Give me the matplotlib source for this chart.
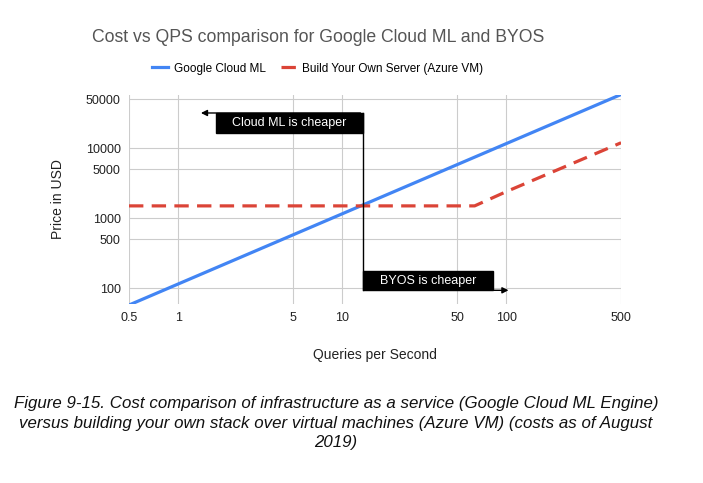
import matplotlib.pyplot as plt
from matplotlib.patches import Rectangle

plt.rcParams['font.family'] = ['Liberation Sans', 'DejaVu Sans']

# data
qps_cloud = [0.5, 1, 5, 10, 50, 100, 500]
price_cloud = [58, 116, 580, 1160, 5800, 11600, 58000]
qps_byos = [0.5, 1, 5, 10, 50, 64, 100, 500]
price_byos = [1500, 1500, 1500, 1500, 1500, 1500, 2400, 11900]

x_ticks = [0.5, 1, 5, 10, 50, 100, 500]
x_labels = ['0.5', '1', '5', '10', '50', '100', '500']
y_ticks = [100, 500, 1000, 5000, 10000, 50000]
y_labels = ['100', '500', '1000', '5000', '10000', '50000']

blue = '#4285F4'
red = '#DB4437'

fig = plt.figure(figsize=(7.03, 4.83), dpi=100)
ax = fig.add_axes([0.1835, 0.3706, 0.700, 0.4327])

ax.plot(qps_cloud, price_cloud, color=blue, lw=2.3, label='Google Cloud ML', zorder=3)
ax.plot(qps_byos, price_byos, color=red, lw=2.3, dashes=(4.5, 2.6),
        label='Build Your Own Server (Azure VM)', zorder=3)

ax.set_xscale('log')
ax.set_yscale('log')
ax.set_xlim(0.5, 500)
ax.set_ylim(60, 57000)
ax.set_xticks(x_ticks)
ax.set_xticklabels(x_labels)
ax.set_yticks(y_ticks)
ax.set_yticklabels(y_labels)
ax.minorticks_off()
ax.tick_params(length=0, labelsize=9, colors='#222222', pad=6)
ax.grid(True, color='#cccccc', lw=0.8)
for s in ax.spines.values():
    s.set_visible(False)

ax.set_xlabel('Queries per Second', fontsize=10, color='#222222', va='center')
ax.set_ylabel('Price in USD', fontsize=10, color='#222222', va='center')
ax.xaxis.set_label_coords(0.5, -0.244)
ax.yaxis.set_label_coords(-0.144, 0.5)

# annotations
xc = 13.4
ax.add_patch(Rectangle((1.69, 16400), xc - 1.69, 31600 - 16400, color='black', zorder=5))
ax.text(4.76, 22800, 'Cloud ML is cheaper', color='white', fontsize=9,
        ha='center', va='center', zorder=6)
ax.add_patch(Rectangle((xc, 94), 83 - xc, 175 - 94, color='black', zorder=5))
ax.text(33.3, 128, 'BYOS is cheaper', color='white', fontsize=9,
        ha='center', va='center', zorder=6)
ax.plot([xc, xc], [31600, 94], color='black', lw=1, zorder=5)
ax.annotate('', xy=(1.32, 31600), xytext=(xc, 31600),
            arrowprops=dict(arrowstyle='-|>', color='black', lw=1, mutation_scale=9),
            zorder=5)
ax.annotate('', xy=(107, 94), xytext=(xc, 94),
            arrowprops=dict(arrowstyle='-|>', color='black', lw=1, mutation_scale=9),
            zorder=5)

fig.text(0.452, 0.923, 'Cost vs QPS comparison for Google Cloud ML and BYOS',
         fontsize=12.7, color='#555555', ha='center', va='center')
fig.legend(loc='center', bbox_to_anchor=(0.452, 0.858), ncol=2, frameon=False,
           fontsize=8.5, handlelength=1.3, columnspacing=1.3, handletextpad=0.5)

caption = ('Figure 9-15. Cost comparison of infrastructure as a service (Google Cloud ML Engine)\n'
           'versus building your own stack over virtual machines (Azure VM) (costs as of August\n'
           '2019)')
fig.text(0.478, 0.124, caption, fontsize=12.2, style='italic', ha='center', va='center',
         linespacing=1.38, color='#111111')

fig.savefig('out.png', dpi=100, facecolor='white')
